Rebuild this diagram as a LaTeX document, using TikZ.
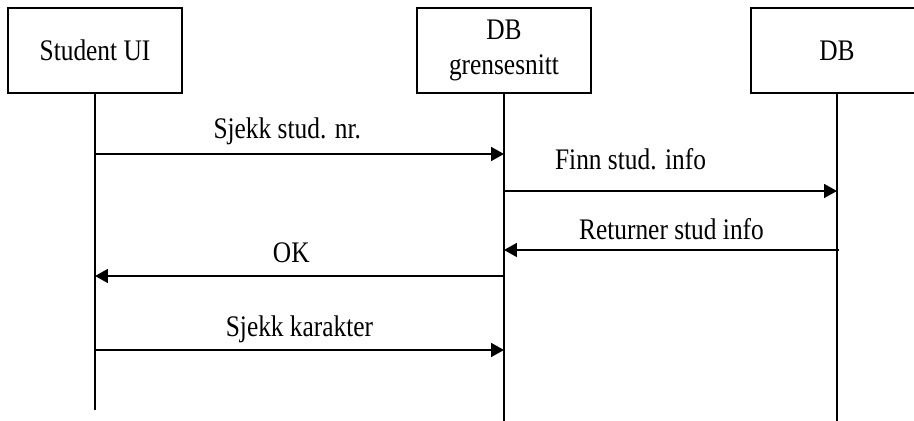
\documentclass[tikz,border=0pt]{standalone}
\usepackage{fontspec}
\setmainfont{Liberation Serif}[FakeStretch=0.85]
\usetikzlibrary{arrows.meta}

\begin{document}
\begin{tikzpicture}[x=0.02cm,y=-0.02cm,
    obj/.style={draw,line width=1pt,minimum width=3.48cm,minimum height=1.7cm,
      align=center,font=\fontsize{17}{20}\selectfont},
    life/.style={line width=1pt},
    msg/.style={line width=1pt,-{Triangle[length=0.26cm,width=0.28cm]}},
    lbl/.style={font=\fontsize{17}{20}\selectfont}]
  \useasboundingbox (0,0) rectangle (914,421);
  % objects
  \node[obj] (ui) at (95,50.5) {Student UI};
  \node[obj] (dbif) at (504,50.5) {DB\\grensesnitt};
  \node[obj,minimum width=3.44cm] (db) at (837,50.5) {DB};
  % lifelines
  \coordinate (ui-end) at (95,410);
  \coordinate (dbif-end) at (504,421);
  \coordinate (db-end) at (837,421);
  \draw[life] (ui) -- (ui-end);
  \draw[life] (dbif) -- (dbif-end);
  \draw[life] (db) -- (db-end);
  % messages
  \coordinate (m1) at (0,154);
  \coordinate (m2) at (0,191);
  \coordinate (m3) at (0,250);
  \coordinate (m4) at (0,276);
  \coordinate (m5) at (0,350);
  \draw[msg] (ui |- m1) -- node[lbl,pos=.47,yshift=0.46cm] {Sjekk stud. nr.} (dbif |- m1);
  \draw[msg] (dbif |- m2) -- node[lbl,pos=.38,yshift=0.64cm] {Finn stud. info} (db |- m2);
  \draw[msg] ([xshift=0.04cm]db |- m3) -- node[lbl,pos=.5,yshift=0.42cm] {Returner stud info} (dbif |- m3);
  \draw[msg] (dbif |- m4) -- node[lbl,pos=.52,yshift=0.46cm] {OK} (ui |- m4);
  \draw[msg] (ui |- m5) -- node[lbl,pos=.5,yshift=0.42cm] {Sjekk karakter} (dbif |- m5);
\end{tikzpicture}
\end{document}
